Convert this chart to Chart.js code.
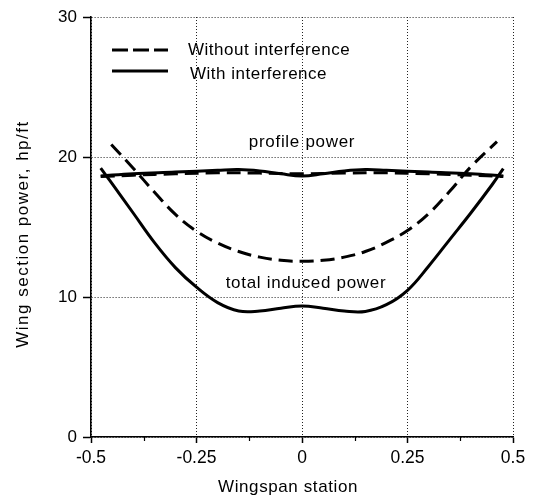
<!DOCTYPE html>
<html><head><meta charset="utf-8">
<script src="https://cdn.jsdelivr.net/npm/chart.js@4.4.1/dist/chart.umd.min.js"></script>
<style>html,body{margin:0;padding:0;background:#fff;}canvas{display:block;}</style>
</head><body>
<canvas id="c" width="534" height="499"></canvas>
<script>
// ---- data ----
const xTickValues = [-0.5, -0.25, 0, 0.25, 0.5];
const xTickLabels = ['-0.5', '-0.25', '0', '0.25', '0.5'];
const xMinorTicks = [-0.375, -0.125, 0.125, 0.375];
const yTickValues = [0, 10, 20, 30];
const yTickLabels = ['0', '10', '20', '30'];

const seriesLabels = ['Without interference', 'With interference'];
const annotationLabels = ['profile power', 'total induced power'];
const xTitle = 'Wingspan station';
const yTitle = 'Wing section power, hp/ft';

// total induced power, with interference (solid)
const withInducedX = [-0.477,-0.45,-0.4,-0.35,-0.3,-0.25,-0.2,-0.15,-0.1,-0.05,0,0.05,0.1,0.15,0.2,0.25,0.3,0.35,0.4,0.45,0.477];
const withInducedY = [19.2,18.1,16.0,13.9,12.1,10.7,9.6,9.0,9.0,9.2,9.35,9.2,9.0,8.97,9.45,10.48,12.2,14.1,16.0,18.0,19.17];
// total induced power, without interference (dashed)
const withoutInducedX = [-0.452,-0.4,-0.35,-0.3,-0.25,-0.2,-0.15,-0.1,-0.05,0,0.05,0.1,0.15,0.2,0.25,0.3,0.35,0.4,0.462];
const withoutInducedY = [20.9,19.2,17.5,15.9,14.7,13.85,13.25,12.85,12.62,12.55,12.62,12.85,13.25,13.9,14.75,15.95,17.55,19.3,21.1];
// profile power, with interference (solid)
const withProfileX = [-0.477,-0.4,-0.3,-0.2,-0.15,-0.1,-0.05,0,0.05,0.1,0.15,0.2,0.3,0.4,0.477];
const withProfileY = [18.65,18.8,18.92,19.05,19.1,19.0,18.8,18.65,18.8,19.0,19.1,19.05,18.92,18.8,18.65];
// profile power, without interference (dashed)
const withoutProfileX = [-0.477,-0.4,-0.3,-0.2,-0.1,0,0.1,0.2,0.3,0.4,0.477];
const withoutProfileY = [18.6,18.7,18.8,18.87,18.85,18.8,18.85,18.87,18.8,18.7,18.6];

const FONT = "'Liberation Sans', Arial, Helvetica, sans-serif";
const DASH = [14, 7];

function pts(xs, ys) { return xs.map((x, i) => ({x: x, y: ys[i]})); }

const datasets = [
  {label: seriesLabels[0], data: pts(withoutInducedX, withoutInducedY), borderDash: DASH},
  {label: seriesLabels[1], data: pts(withInducedX, withInducedY), borderDash: []},
  {label: seriesLabels[0], data: pts(withoutProfileX, withoutProfileY), borderDash: DASH},
  {label: seriesLabels[1], data: pts(withProfileX, withProfileY), borderDash: []}
].map(d => Object.assign({
  borderColor: '#000', backgroundColor: 'transparent', borderWidth: 3,
  pointRadius: 0, fill: false, tension: 0.4
}, d));

function text(ctx, str, x, y, opts) {
  ctx.save();
  ctx.font = (opts.size || 17) + 'px ' + FONT;
  ctx.fillStyle = '#000';
  ctx.textAlign = opts.align || 'left';
  ctx.textBaseline = 'alphabetic';
  try { ctx.letterSpacing = (opts.ls || 0) + 'px'; } catch (e) {}
  ctx.translate(x, y);
  if (opts.rot) ctx.rotate(opts.rot);
  ctx.fillText(str, 0, 0);
  ctx.restore();
}

const decor = {
  id: 'decor',
  afterDraw(chart) {
    const ctx = chart.ctx;
    const xs = chart.scales.x, ys = chart.scales.y;
    // minor x ticks
    ctx.save();
    ctx.strokeStyle = '#000'; ctx.lineWidth = 1.2;
    xMinorTicks.forEach(v => {
      const px = Math.round(xs.getPixelForValue(v)) + 0.5;
      ctx.beginPath(); ctx.moveTo(px, ys.bottom); ctx.lineTo(px, ys.bottom + 4); ctx.stroke();
    });
    ctx.restore();
    // legend
    ctx.save();
    ctx.strokeStyle = '#000'; ctx.lineWidth = 3;
    ctx.setLineDash([16, 5]);
    ctx.beginPath(); ctx.moveTo(112, 50); ctx.lineTo(168, 50); ctx.stroke();
    ctx.setLineDash([]);
    ctx.beginPath(); ctx.moveTo(112, 71); ctx.lineTo(168, 71); ctx.stroke();
    ctx.restore();
    text(ctx, seriesLabels[0], 188, 54.5, {size: 17, ls: 0.5});
    text(ctx, seriesLabels[1], 190, 79, {size: 17, ls: 0.5});
    // annotations
    text(ctx, annotationLabels[0], 302, 147, {size: 17, align: 'center', ls: 0.7});
    text(ctx, annotationLabels[1], 306, 288, {size: 17, align: 'center', ls: 0.7});
    // axis titles
    text(ctx, xTitle, 288, 492, {size: 17, align: 'center', ls: 0.6});
    text(ctx, yTitle, 27.5, 234, {size: 17, align: 'center', ls: 1.5, rot: -Math.PI / 2});
  }
};

new Chart(document.getElementById('c'), {
  type: 'line',
  data: {datasets: datasets},
  options: {
    responsive: false, animation: false, devicePixelRatio: 1,
    layout: {padding: {top: 17, right: 21, left: 0, bottom: 0}},
    plugins: {legend: {display: false}, tooltip: {enabled: false}},
    scales: {
      x: {
        type: 'linear', min: -0.5, max: 0.5,
        afterBuildTicks: s => { s.ticks = xTickValues.map(v => ({value: v})); },
        afterFit: s => { s.height = 62; },
        ticks: {
          autoSkip: false, maxRotation: 0, color: '#000', padding: 5,
          font: {family: FONT, size: 17.5, lineHeight: 1.2},
          callback: (v, i) => xTickLabels[i]
        },
        grid: {color: '#222', lineWidth: 1, tickLength: 6, tickColor: '#000', tickWidth: 1.5, tickBorderDash: []},
        border: {display: true, color: '#000', width: 1.6, dash: [1, 2]}
      },
      y: {
        type: 'linear', min: 0, max: 30,
        afterBuildTicks: s => { s.ticks = yTickValues.map(v => ({value: v})); },
        afterFit: s => { s.width = 91; },
        ticks: {
          color: '#000', padding: 6,
          font: {family: FONT, size: 17, lineHeight: 1.2},
          callback: (v, i) => yTickLabels[i]
        },
        grid: {color: '#222', lineWidth: 1, tickLength: 8, tickColor: '#000', tickWidth: 1.5, tickBorderDash: []},
        border: {display: true, color: '#000', width: 1.6, dash: [1, 2]}
      }
    }
  },
  plugins: [decor]
});
</script>
</body></html>
